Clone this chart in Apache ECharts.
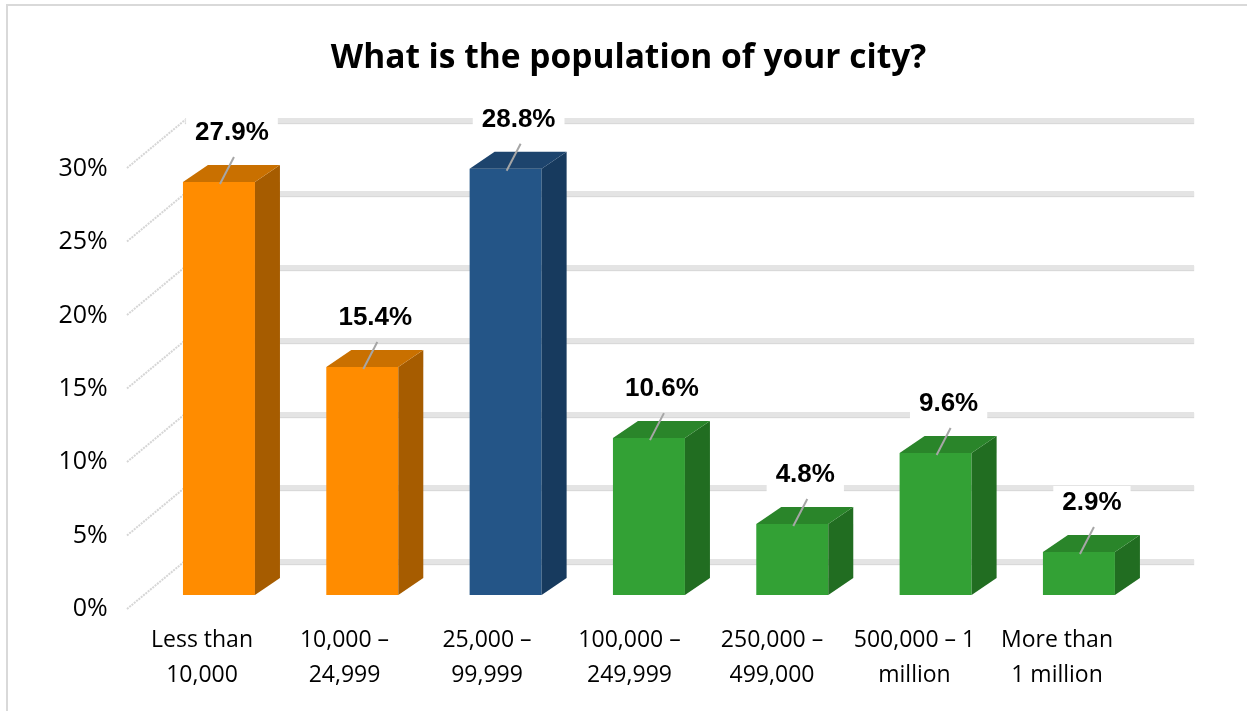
<!DOCTYPE html>
<html>
<head>
<meta charset="utf-8">
<script src="https://cdn.jsdelivr.net/npm/echarts@6/dist/echarts.min.js"></script>
<style>
  html, body { margin: 0; padding: 0; background: #fff; }
  #chart { width: 1257px; height: 711px; }
</style>
</head>
<body>
<div id="chart"></div>
<script>
  // data
  const categories = ['Less than\n10,000', '10,000 –\n24,999', '25,000 –\n99,999', '100,000 –\n249,999',
    '250,000 –\n499,000', '500,000 – 1\nmillion', 'More than\n1 million']
  const shares = [27.9, 15.4, 28.8, 10.6, 4.8, 9.6, 2.9]
  const barGroups = ['orange', 'orange', 'blue', 'green', 'green', 'green', 'green']
  const yTicks = [0, 5, 10, 15, 20, 25, 30]

  // face colours per group (front / side / top)
  const palette = {
    orange: { front: '#ff8c00', side: '#a65c00', top: '#c97000' },
    blue: { front: '#245587', side: '#173a5e', top: '#1d446d' },
    green: { front: '#33a135', side: '#216d21', top: '#2a852a' }
  }

  const chart = echarts.init(document.getElementById('chart'))

  function renderBar (params, api) {
    const i = api.value(0)
    const v = api.value(1)
    const top = api.coord([i, v])
    const base = api.coord([i, 0])
    const hw = 36, dx = 25, dy = -17 // half width, depth offset
    const l = top[0] - hw, r = top[0] + hw
    const c = palette[barGroups[params.dataIndex]]
    return {
      type: 'group',
      children: [
        { type: 'polygon', shape: { points: [[l, top[1]], [r, top[1]], [r, base[1]], [l, base[1]]] }, style: { fill: c.front } },
        { type: 'polygon', shape: { points: [[r, top[1]], [r + dx, top[1] + dy], [r + dx, base[1] + dy], [r, base[1]]] }, style: { fill: c.side } },
        { type: 'polygon', shape: { points: [[l, top[1]], [l + dx, top[1] + dy], [r + dx, top[1] + dy], [r, top[1]]] }, style: { fill: c.top } },
        { type: 'line', shape: { x1: top[0] + 1, y1: top[1] + 2, x2: top[0] + 15, y2: top[1] - 25 }, style: { stroke: '#a6a6a6', lineWidth: 2 } },
        {
          type: 'text',
          style: {
            text: v.toFixed(1) + '%',
            x: top[0] + 13,
            y: top[1] - 49,
            align: 'center',
            verticalAlign: 'middle',
            font: 'bold 26px "Liberation Sans", Arial, sans-serif',
            fill: '#000',
            backgroundColor: '#fff',
            padding: [4, 9]
          }
        }
      ]
    }
  }

  // left wall diagonals from front axis to back wall
  function renderWall (params, api) {
    const p = api.coord([0, api.value(1)])
    return {
      type: 'line',
      shape: { x1: p[0] - 58, y1: p[1] + 48, x2: p[0], y2: p[1] },
      style: { stroke: '#d6d6d6', lineWidth: 2, lineDash: [2, 1] }
    }
  }

  chart.setOption({
    animation: false,
    title: {
      text: 'What is the population of your city?',
      left: 'center',
      top: 36,
      textStyle: { fontFamily: 'Open Sans', fontWeight: 'bold', fontSize: 33.5, color: '#000' }
    },
    graphic: [{
      type: 'polyline',
      shape: { points: [[7, 711], [7, 5], [1247, 5]] },
      style: { stroke: '#d9d9d9', lineWidth: 2, fill: null }
    }],
    grid: [
      { left: 130.75, right: 128.75, top: 169, bottom: 102 }, // front plane: labels
      { left: 147.3, right: 106.4, top: 151, bottom: 116 }, // bars
      { left: 185, right: 63, top: 120, bottom: 150 } // back wall
    ],
    xAxis: [
      {
        gridIndex: 0,
        type: 'category',
        data: categories,
        axisLine: { show: false },
        axisTick: { show: false },
        axisLabel: { margin: 14, fontFamily: 'Open Sans', fontSize: 23, lineHeight: 35, color: '#000', interval: 0 }
      },
      { gridIndex: 1, type: 'category', data: categories, show: false },
      { gridIndex: 2, type: 'value', min: 0, max: 1, show: false }
    ],
    yAxis: [
      {
        gridIndex: 0,
        type: 'value',
        min: 0,
        max: 30,
        interval: 5,
        axisLine: { show: false },
        axisTick: { show: false },
        splitLine: { show: false },
        axisLabel: { margin: 23, fontFamily: 'Open Sans', fontSize: 25, color: '#000', formatter: '{value}%' }
      },
      { gridIndex: 1, type: 'value', min: 0, max: 30, show: false },
      {
        gridIndex: 2,
        type: 'value',
        min: 0,
        max: 30,
        interval: 5,
        axisLine: { show: false },
        axisTick: { show: false },
        axisLabel: { show: false },
        splitLine: {
          lineStyle: { color: '#e4e4e4', width: 5, shadowColor: 'rgba(0,0,0,0.15)', shadowBlur: 1, shadowOffsetY: 1 }
        }
      }
    ],
    series: [
      {
        type: 'custom',
        xAxisIndex: 2,
        yAxisIndex: 2,
        renderItem: renderWall,
        data: yTicks.map(t => [0, t]),
        silent: true
      },
      {
        type: 'custom',
        xAxisIndex: 1,
        yAxisIndex: 1,
        renderItem: renderBar,
        data: shares.map((s, i) => [i, s]),
        z: 5
      }
    ]
  })
</script>
</body>
</html>
